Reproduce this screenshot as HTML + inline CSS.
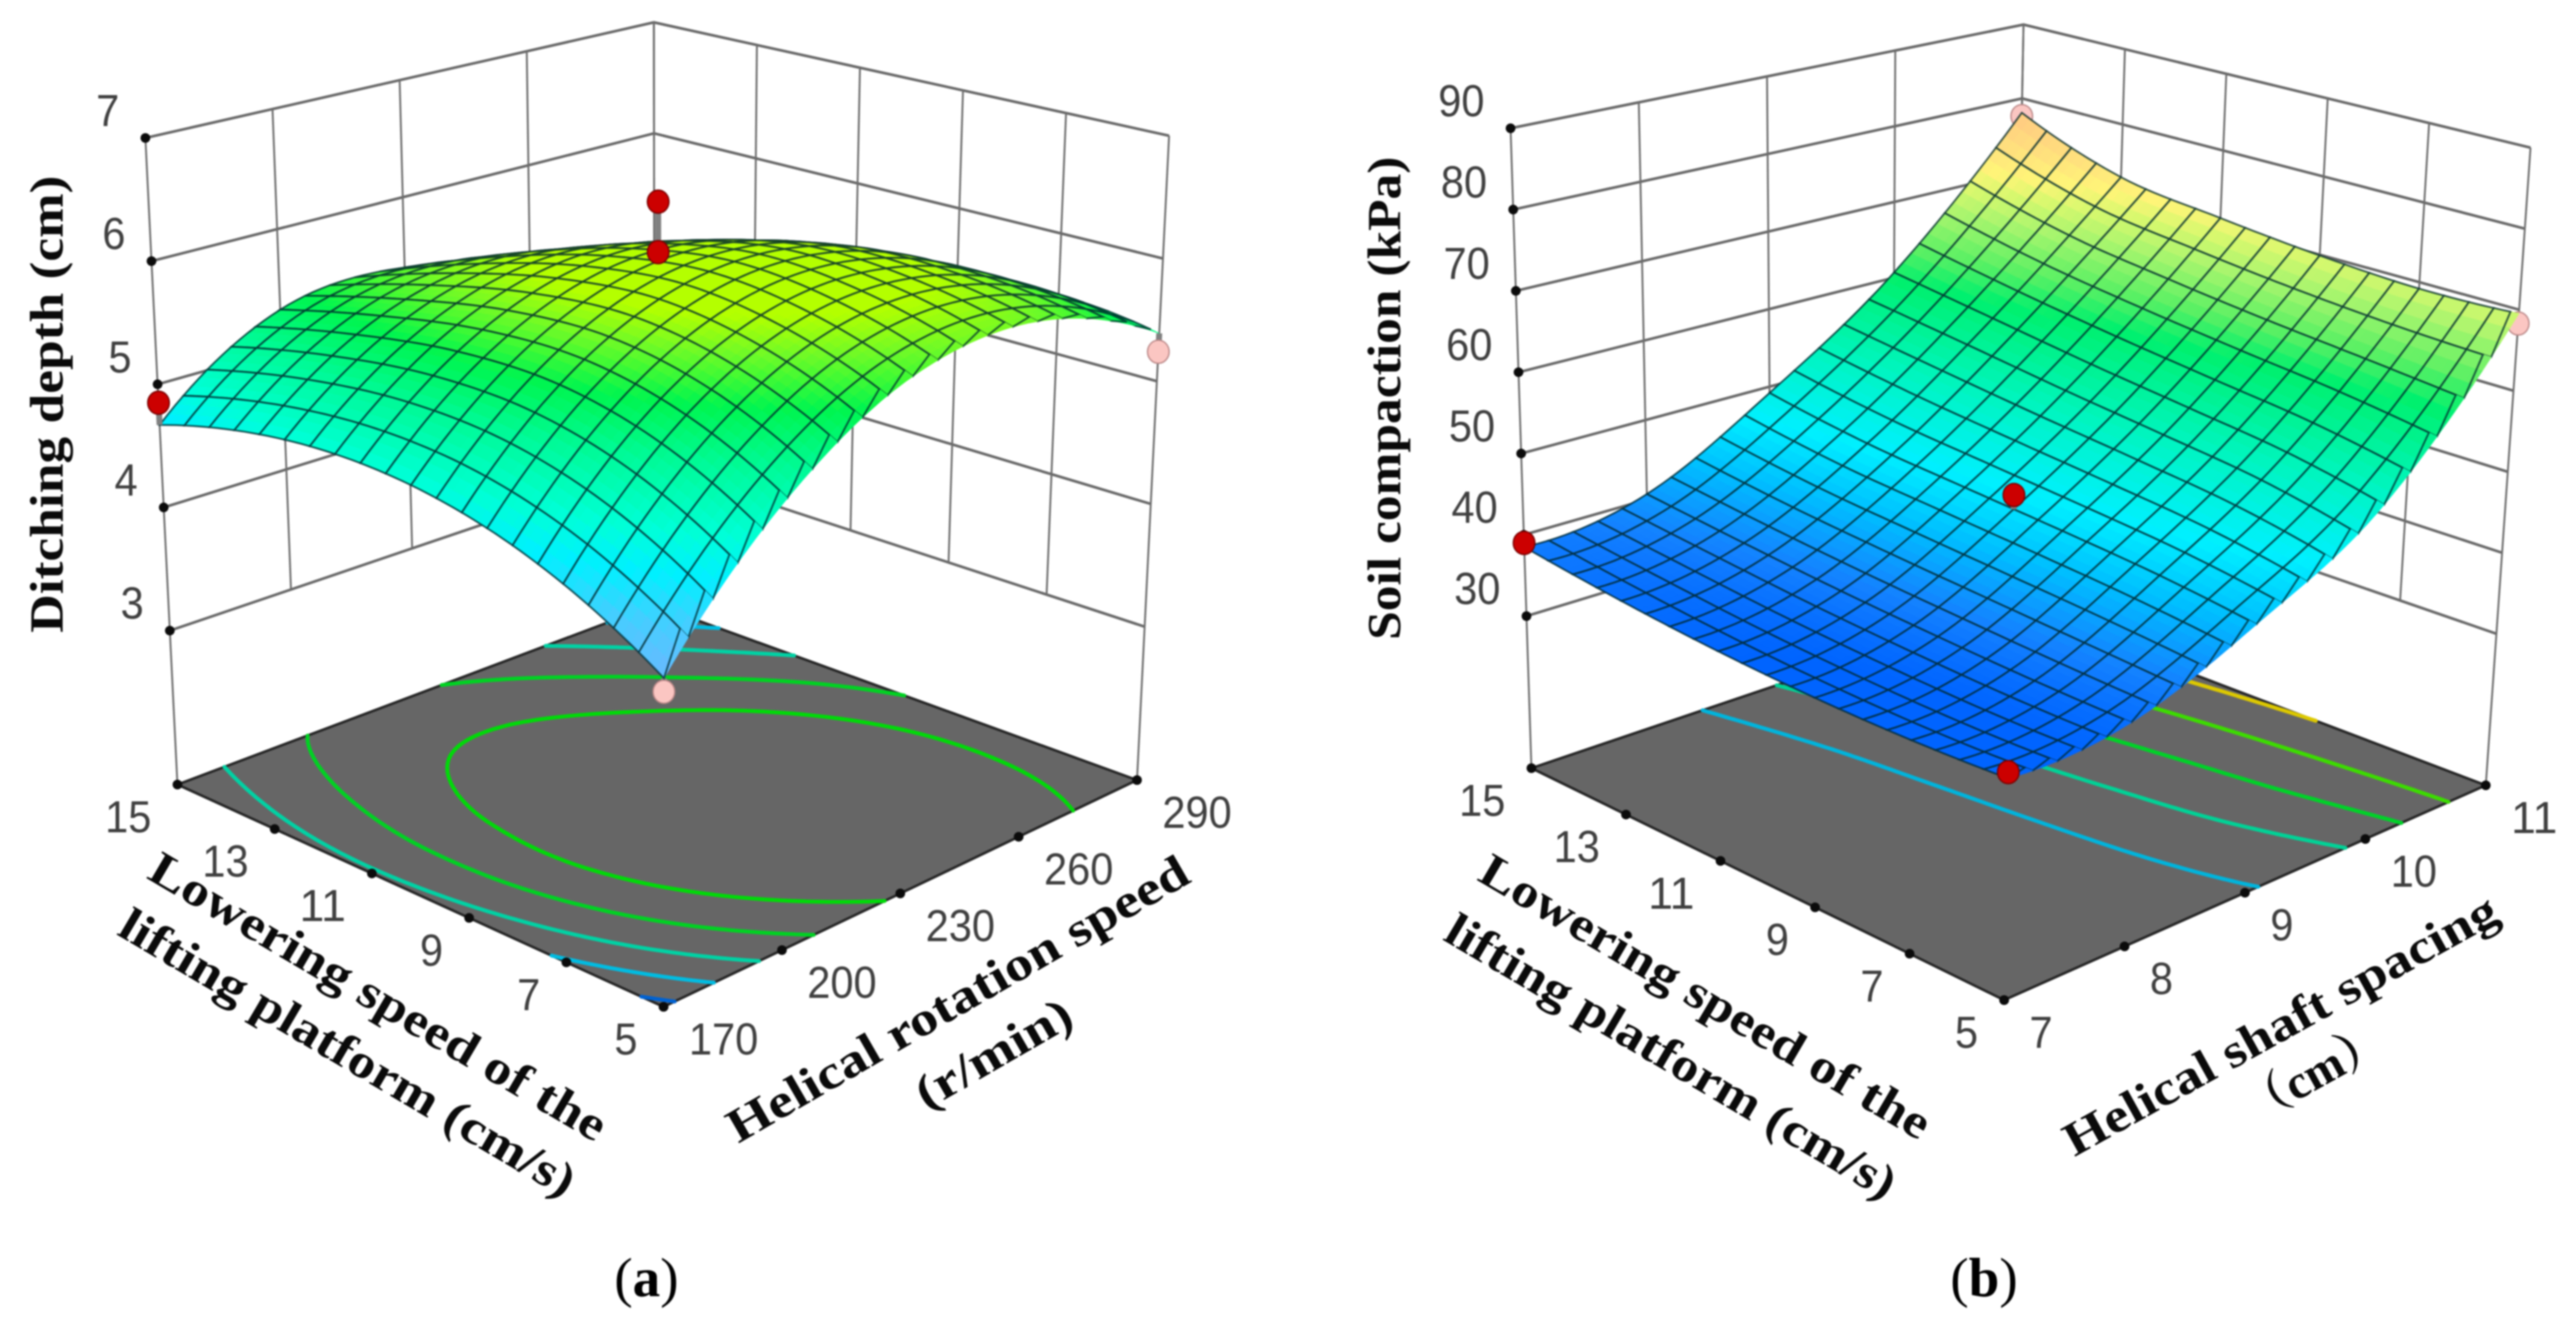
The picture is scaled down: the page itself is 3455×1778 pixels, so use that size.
<!DOCTYPE html>
<html lang="en">
<head>
<meta charset="utf-8">
<title>Response surface plots</title>
<style>
html,body{margin:0;padding:0;background:#fff;}
svg{display:block;}
.tick{font-family:"Liberation Sans",sans-serif;font-size:60px;fill:#3f3f3f;}
.ttl{font-family:"Liberation Serif","Noto Serif CJK SC",serif;font-weight:700;fill:#0a0a0a;font-size:64px;}
.cap{font-family:"Liberation Serif",serif;fill:#000;font-size:74px;}
</style>
</head>
<body>
<svg id="figure" xmlns="http://www.w3.org/2000/svg" width="3455" height="1778" viewBox="0 0 3455 1778" style="filter:blur(1px)">
  <rect x="0" y="0" width="3455" height="1778" fill="#ffffff"/>
  <g id="panel-a"></g>
  <g id="panel-b"></g>

  <g>
    <text class="ttl" transform="translate(84,542) rotate(-90)" text-anchor="middle" textLength="613" lengthAdjust="spacingAndGlyphs">Ditching depth (cm)</text>
    <text class="ttl" transform="translate(506,1339) rotate(30.5)" text-anchor="middle" y="18" textLength="700" lengthAdjust="spacingAndGlyphs">Lowering speed of the</text>
    <text class="ttl" transform="translate(465,1414) rotate(30.5)" text-anchor="middle" y="18" textLength="698" lengthAdjust="spacingAndGlyphs">lifting platform (cm/s)</text>
    <text class="ttl" transform="translate(1286,1342) rotate(-30)" text-anchor="middle" y="18" textLength="704" lengthAdjust="spacingAndGlyphs">Helical rotation speed</text>
    <text class="ttl" transform="translate(1334,1415) rotate(-30)" text-anchor="middle" y="18" textLength="232" lengthAdjust="spacingAndGlyphs">(r/min)</text>
    <text class="cap" x="867" y="1738" text-anchor="middle">(<tspan font-weight="700">a</tspan>)</text>
  </g>
  <g>
    <text class="ttl" transform="translate(1878,534) rotate(-90)" text-anchor="middle" textLength="648" lengthAdjust="spacingAndGlyphs">Soil compaction (kPa)</text>
    <text class="ttl" transform="translate(2286,1339) rotate(30.5)" text-anchor="middle" y="18" textLength="690" lengthAdjust="spacingAndGlyphs">Lowering speed of the</text>
    <text class="ttl" transform="translate(2240,1419) rotate(30.5)" text-anchor="middle" y="18" textLength="690" lengthAdjust="spacingAndGlyphs">lifting platform (cm/s)</text>
    <text class="ttl" transform="translate(3060,1377) rotate(-29)" text-anchor="middle" y="18" textLength="655" lengthAdjust="spacingAndGlyphs">Helical shaft spacing</text>
    <text class="ttl" transform="translate(3105,1442) rotate(-29)" text-anchor="middle" y="18" font-weight="400">（cm）</text>
    <text class="cap" x="2661" y="1738" text-anchor="middle">(<tspan font-weight="700">b</tspan>)</text>
  </g>
</svg>

<script>
// ---------- Panel (a) data ----------
const A_LOWERING = [5, 7, 9, 11, 13, 15];
const A_ROTATION = [170, 200, 230, 260, 290];
const A_DEPTH_TICKS = [3, 4, 5, 6, 7];
// Ditching depth (cm): one row per lowering speed, one column per rotation speed
const A_DEPTH_GRID = [
  [4.17, 5.16, 5.75, 5.84, 5.39],
  [4.59, 5.54, 6.01, 5.99, 5.49],
  [4.85, 5.72, 6.11, 6.01, 5.43],
  [4.95, 5.70, 6.00, 5.82, 5.21],
  [4.89, 5.55, 5.75, 5.47, 4.80],
  [4.67, 5.33, 5.40, 5.05, 4.29]
];
const A_CONTOUR_LEVELS = [4.28, 4.64, 5.0, 5.36, 5.7];
const A_POINT_LOWERING = [10, 10, 15, 5, 5];
const A_POINT_ROTATION = [230, 230, 170, 290, 170];
const A_POINT_DEPTH = [6.56, 6.15, 4.85, 5.24, 4.07];
const A_COLOR_Z = [4.1, 4.45, 4.72, 4.95, 5.32, 5.6, 5.76, 5.85, 6.02];
const A_COLOR_RGB = [[115,180,255],[70,205,255],[0,240,255],[0,255,215],[0,250,150],[0,245,80],[70,250,50],[110,250,40],[180,255,0]];

// ---------- Panel (b) data ----------
const B_LOWERING = [5, 7, 9, 11, 13, 15];
const B_SPACING = [7, 8, 9, 10, 11];
const B_COMPACTION_TICKS = [30, 40, 50, 60, 70, 80, 90];
// Soil compaction (kPa): one row per lowering speed, one column per shaft spacing
const B_COMPACTION_GRID = [
  [36.30, 37.11, 42.92, 51.60, 69.54],
  [35.78, 37.30, 44.40, 54.00, 69.20],
  [35.74, 37.80, 45.40, 55.50, 69.90],
  [36.18, 38.50, 46.30, 57.00, 71.20],
  [37.10, 39.50, 47.30, 58.80, 73.00],
  [38.50, 40.69, 49.20, 60.68, 78.06]
];
const B_CONTOUR_LEVELS = [43.7, 49.6, 56, 63, 69.7];
const B_POINT_LOWERING = [10, 15, 5, 15, 5];
const B_POINT_SPACING = [9, 7, 7, 11, 11];
const B_POINT_COMPACTION = [47.6, 39, 37, 77.6, 68.3];
const B_COLOR_Z = [36, 39, 43, 47, 53, 60, 63, 67, 69.5, 71.5, 74, 78];
const B_COLOR_RGB = [[0,100,255],[20,130,255],[0,190,255],[0,240,255],[0,245,190],[0,240,110],[90,240,100],[170,245,110],[215,248,110],[255,245,120],[255,225,125],[255,200,130]];

const SVGNS = 'http://www.w3.org/2000/svg';
function make(parent, tag, attrs) {
  const el = document.createElementNS(SVGNS, tag);
  for (const k in attrs) el.setAttribute(k, attrs[k]);
  parent.appendChild(el);
  return el;
}
function catmull(p, t) {
  const n = p.length, s = t * (n - 1);
  const i = Math.min(Math.floor(s), n - 2), f = s - i;
  const p0 = i > 0 ? p[i - 1] : 3 * p[0] - 3 * p[1] + p[2];
  const p1 = p[i], p2 = p[i + 1];
  const p3 = i < n - 2 ? p[i + 2] : 3 * p[n - 1] - 3 * p[n - 2] + p[n - 3];
  return 0.5 * (2 * p1 + (p2 - p0) * f + (2 * p0 - 5 * p1 + 4 * p2 - p3) * f * f + (3 * p1 - p0 - 3 * p2 + p3) * f * f * f);
}

function drawPanel(cfg) {
  const root = document.getElementById(cfg.id);
  const uMin = cfg.rowsAxis[0], uMax = cfg.rowsAxis[cfg.rowsAxis.length - 1];
  const vMin = cfg.colsAxis[0], vMax = cfg.colsAxis[cfg.colsAxis.length - 1];
  const uScale = x => (x - uMin) / (uMax - uMin);
  const vScale = x => (x - vMin) / (vMax - vMin);
  const zScale = z => (z - cfg.zFloor) / (cfg.zTop - cfg.zFloor);
  const c = cfg.box;
  function project(u, v, w) {
    const out = [0, 0];
    for (let k = 0; k < 2; k++) {
      const fl = (1-u)*(1-v)*c.F[k] + u*(1-v)*c.L[k] + (1-u)*v*c.R[k] + u*v*c.B[k];
      const tp = (1-u)*(1-v)*c.Ft[k] + u*(1-v)*c.Lt[k] + (1-u)*v*c.Rt[k] + u*v*c.Bt[k];
      out[k] = fl + (tp - fl) * w;
    }
    return out;
  }
  function surf(u, v) {
    const col = cfg.grid.map(row => catmull(row, v));
    return catmull(col, u);
  }
  function colorAt(z) {
    const zs = cfg.colorZ, cs = cfg.colorRgb;
    let rgb;
    if (z <= zs[0]) rgb = cs[0];
    else if (z >= zs[zs.length - 1]) rgb = cs[cs.length - 1];
    else {
      let i = 0;
      while (z > zs[i + 1]) i++;
      const f = (z - zs[i]) / (zs[i + 1] - zs[i]);
      rgb = [0, 1, 2].map(q => cs[i][q] + (cs[i + 1][q] - cs[i][q]) * f);
    }
    return 'rgb(' + rgb.map(q => Math.round(q)).join(',') + ')';
  }
  const pts = list => list.map(p => p[0].toFixed(1) + ',' + p[1].toFixed(1)).join(' ');

  // ----- walls -----
  const walls = make(root, 'g', {});
  
  
  const zLow = cfg.zTicks[0];
  cfg.zTicks.forEach(z => {
    const w = zScale(z);
    const l = make(walls, 'polyline', {points: pts([project(1,0,w), project(1,1,w), project(0,1,w)]), fill:'none', stroke:'#686868', 'stroke-width':3.6});
    
    
  });
  cfg.colsAxis.forEach(val => {
    const v = vScale(val);
    const bottom = (v === 0) ? 0 : zScale(zLow);
    const l = make(walls, 'line', {x1:project(1,v,1)[0], y1:project(1,v,1)[1], x2:project(1,v,bottom)[0], y2:project(1,v,bottom)[1], stroke:'#6c6c6c', 'stroke-width':2.5});
    
    
  });
  cfg.rowsAxis.forEach(val => {
    const u = uScale(val);
    const bottom = (u === 0) ? 0 : zScale(zLow);
    const l = make(walls, 'line', {x1:project(u,1,1)[0], y1:project(u,1,1)[1], x2:project(u,1,bottom)[0], y2:project(u,1,bottom)[1], stroke:'#6c6c6c', 'stroke-width':2.5});
    
    
  });

  // ----- floor -----
  const floor = make(root, 'polygon', {points: pts([project(0,0,0), project(1,0,0), project(1,1,0), project(0,1,0)]), fill:'#666666', stroke:'#262626', 'stroke-width':3.5});
  
  

  // ----- contours (marching squares over the response grid) -----
  const M = 90;
  const field = [];
  for (let i = 0; i <= M; i++) {
    field.push([]);
    for (let j = 0; j <= M; j++) field[i].push(surf(i / M, j / M));
  }
  cfg.levels.forEach((level, idx) => {
    let d = '';
    for (let i = 0; i < M; i++) for (let j = 0; j < M; j++) {
      const corners = [[i,j],[i+1,j],[i+1,j+1],[i,j+1]];
      const hits = [];
      for (let e = 0; e < 4; e++) {
        const a = corners[e], b = corners[(e + 1) % 4];
        const za = field[a[0]][a[1]], zb = field[b[0]][b[1]];
        if ((za < level) !== (zb < level)) {
          const f = (level - za) / (zb - za);
          hits.push(project((a[0] + (b[0]-a[0])*f) / M, (a[1] + (b[1]-a[1])*f) / M, 0));
        }
      }
      if (hits.length >= 2) {
        d += 'M' + hits[0][0].toFixed(1) + ' ' + hits[0][1].toFixed(1) + 'L' + hits[1][0].toFixed(1) + ' ' + hits[1][1].toFixed(1);
      }
    }
    const p = make(root, 'path', {d: d, fill:'none', stroke: cfg.contourColors[idx], 'stroke-width':5.2, 'stroke-linecap':'round'});
    
    
  });

  // ----- tick dots and labels -----
  const ticks = make(root, 'g', {});
  
  
  function dot(p) {
    const d = make(ticks, 'circle', {cx:p[0], cy:p[1], r:6.5, fill:'#0b0b0b'});
    
    
  }
  function label(p, dx, dy, anchor, txt, name) {
    const t = make(ticks, 'text', {x:p[0]+dx, y:p[1]+dy+21, 'text-anchor':anchor, 'class':'tick', textLength: txt.length * 31, lengthAdjust:'spacingAndGlyphs'});
    t.textContent = txt;
    
    
  }
  cfg.zTicks.forEach(z => {
    const p = project(1, 0, zScale(z));
    dot(p);
    label(p, -35, -37, 'end', String(z), 'z-tick-label');
  });
  cfg.rowsAxis.forEach(val => {
    const p = project(uScale(val), 0, 0);
    dot(p);
    label(p, -35, 43, 'end', String(val), 'lowering-speed-tick-label');
  });
  cfg.colsAxis.forEach(val => {
    const p = project(0, vScale(val), 0);
    dot(p);
    label(p, 34, 43, 'start', String(val), 'x-factor-tick-label');
  });

  // ----- design points -----
  function ball(parent, u, v, z, above) {
    const p = project(u, v, zScale(z));
    const surfP = project(u, v, zScale(surf(u, v)));
    const s = make(parent, 'line', {x1:p[0], y1:p[1], x2:surfP[0], y2:surfP[1], stroke:'#808080', 'stroke-width':8});
    
    
    const e = make(parent, 'ellipse', {cx:p[0], cy:p[1], rx:14.5, ry:15.5, fill: above ? '#cc0000' : '#fbc6c2', stroke: above ? '#7a0000' : '#b88', 'stroke-width':1.8});
    
    
  }
  const below = make(root, 'g', {});
  
  
  cfg.pointZ.forEach((z, i) => {
    const u = uScale(cfg.pointU[i]), v = vScale(cfg.pointV[i]);
    if (z < surf(u, v)) ball(below, u, v, z, false);
  });

  // ----- surface (painter's order, back to front) -----
  const surface = make(root, 'g', {});
  
  
  const N = 20, S = 3;
  const at = (u, v) => project(u, v, zScale(surf(u, v)));
  for (let i = N - 1; i >= 0; i--) {
    for (let j = N - 1; j >= 0; j--) {
      for (let a = S - 1; a >= 0; a--) for (let b = S - 1; b >= 0; b--) {
        const u0 = (i + a / S) / N, u1 = (i + (a + 1) / S) / N;
        const v0 = (j + b / S) / N, v1 = (j + (b + 1) / S) / N;
        const um = (u0 + u1) / 2, vm = (v0 + v1) / 2;
        const col = colorAt(surf(um, vm) + cfg.colorTilt * um * um * vm);
        const q = make(surface, 'polygon', {points: pts([at(u0,v0), at(u1,v0), at(u1,v1), at(u0,v1)]), fill: col, stroke: col, 'stroke-width':0.9});
        
        
      }
      const u0 = i / N, u1 = (i + 1) / N, v0 = j / N, v1 = (j + 1) / N;
      const line = [];
      for (let t = 0; t <= S; t++) line.push(at(u0 + (u1 - u0) * t / S, v0));
      for (let t = 1; t <= S; t++) line.push(at(u1, v0 + (v1 - v0) * t / S));
      for (let t = 1; t <= S; t++) line.push(at(u1 - (u1 - u0) * t / S, v1));
      for (let t = 1; t < S; t++) line.push(at(u0, v1 - (v1 - v0) * t / S));
      const m = make(surface, 'polygon', {points: pts(line), fill:'none', stroke:'rgba(0,40,45,0.78)', 'stroke-width':2.4});
      
      
    }
  }

  const above = make(root, 'g', {});
  
  
  cfg.pointZ.forEach((z, i) => {
    const u = uScale(cfg.pointU[i]), v = vScale(cfg.pointV[i]);
    if (z >= surf(u, v)) ball(above, u, v, z, true);
  });
}

drawPanel({
  id: 'panel-a',
  rowsAxis: A_LOWERING, colsAxis: A_ROTATION, zTicks: A_DEPTH_TICKS, grid: A_DEPTH_GRID,
  levels: A_CONTOUR_LEVELS,
  contourColors: ['#0062d2', '#00bce2', '#00d2a4', '#00d222', '#00da08'],
  pointU: A_POINT_LOWERING, pointV: A_POINT_ROTATION, pointZ: A_POINT_DEPTH,
  colorZ: A_COLOR_Z, colorRgb: A_COLOR_RGB, colorTilt: 0.7,
  zFloor: 1.75, zTop: 7,
  box: {F:[890,1350], L:[238,1052], R:[1525,1046], B:[878,811],
        Ft:[891,394], Lt:[195,185], Rt:[1568,182], Bt:[877,30]}
});
drawPanel({
  id: 'panel-b',
  rowsAxis: B_LOWERING, colsAxis: B_SPACING, zTicks: B_COMPACTION_TICKS, grid: B_COMPACTION_GRID,
  levels: B_CONTOUR_LEVELS,
  contourColors: ['#00b4dc', '#00d296', '#00d228', '#3cdc00', '#dcc800'],
  pointU: B_POINT_LOWERING, pointV: B_POINT_SPACING, pointZ: B_POINT_COMPACTION,
  colorZ: B_COLOR_Z, colorRgb: B_COLOR_RGB, colorTilt: 0,
  zFloor: 11.3, zTop: 90,
  box: {F:[2688,1341], L:[2054,1030], R:[3334,1053], B:[2699,812],
        Ft:[2705,405], Lt:[2026,172], Rt:[3394,198], Bt:[2714,33]}
});
</script>
</body>
</html>
